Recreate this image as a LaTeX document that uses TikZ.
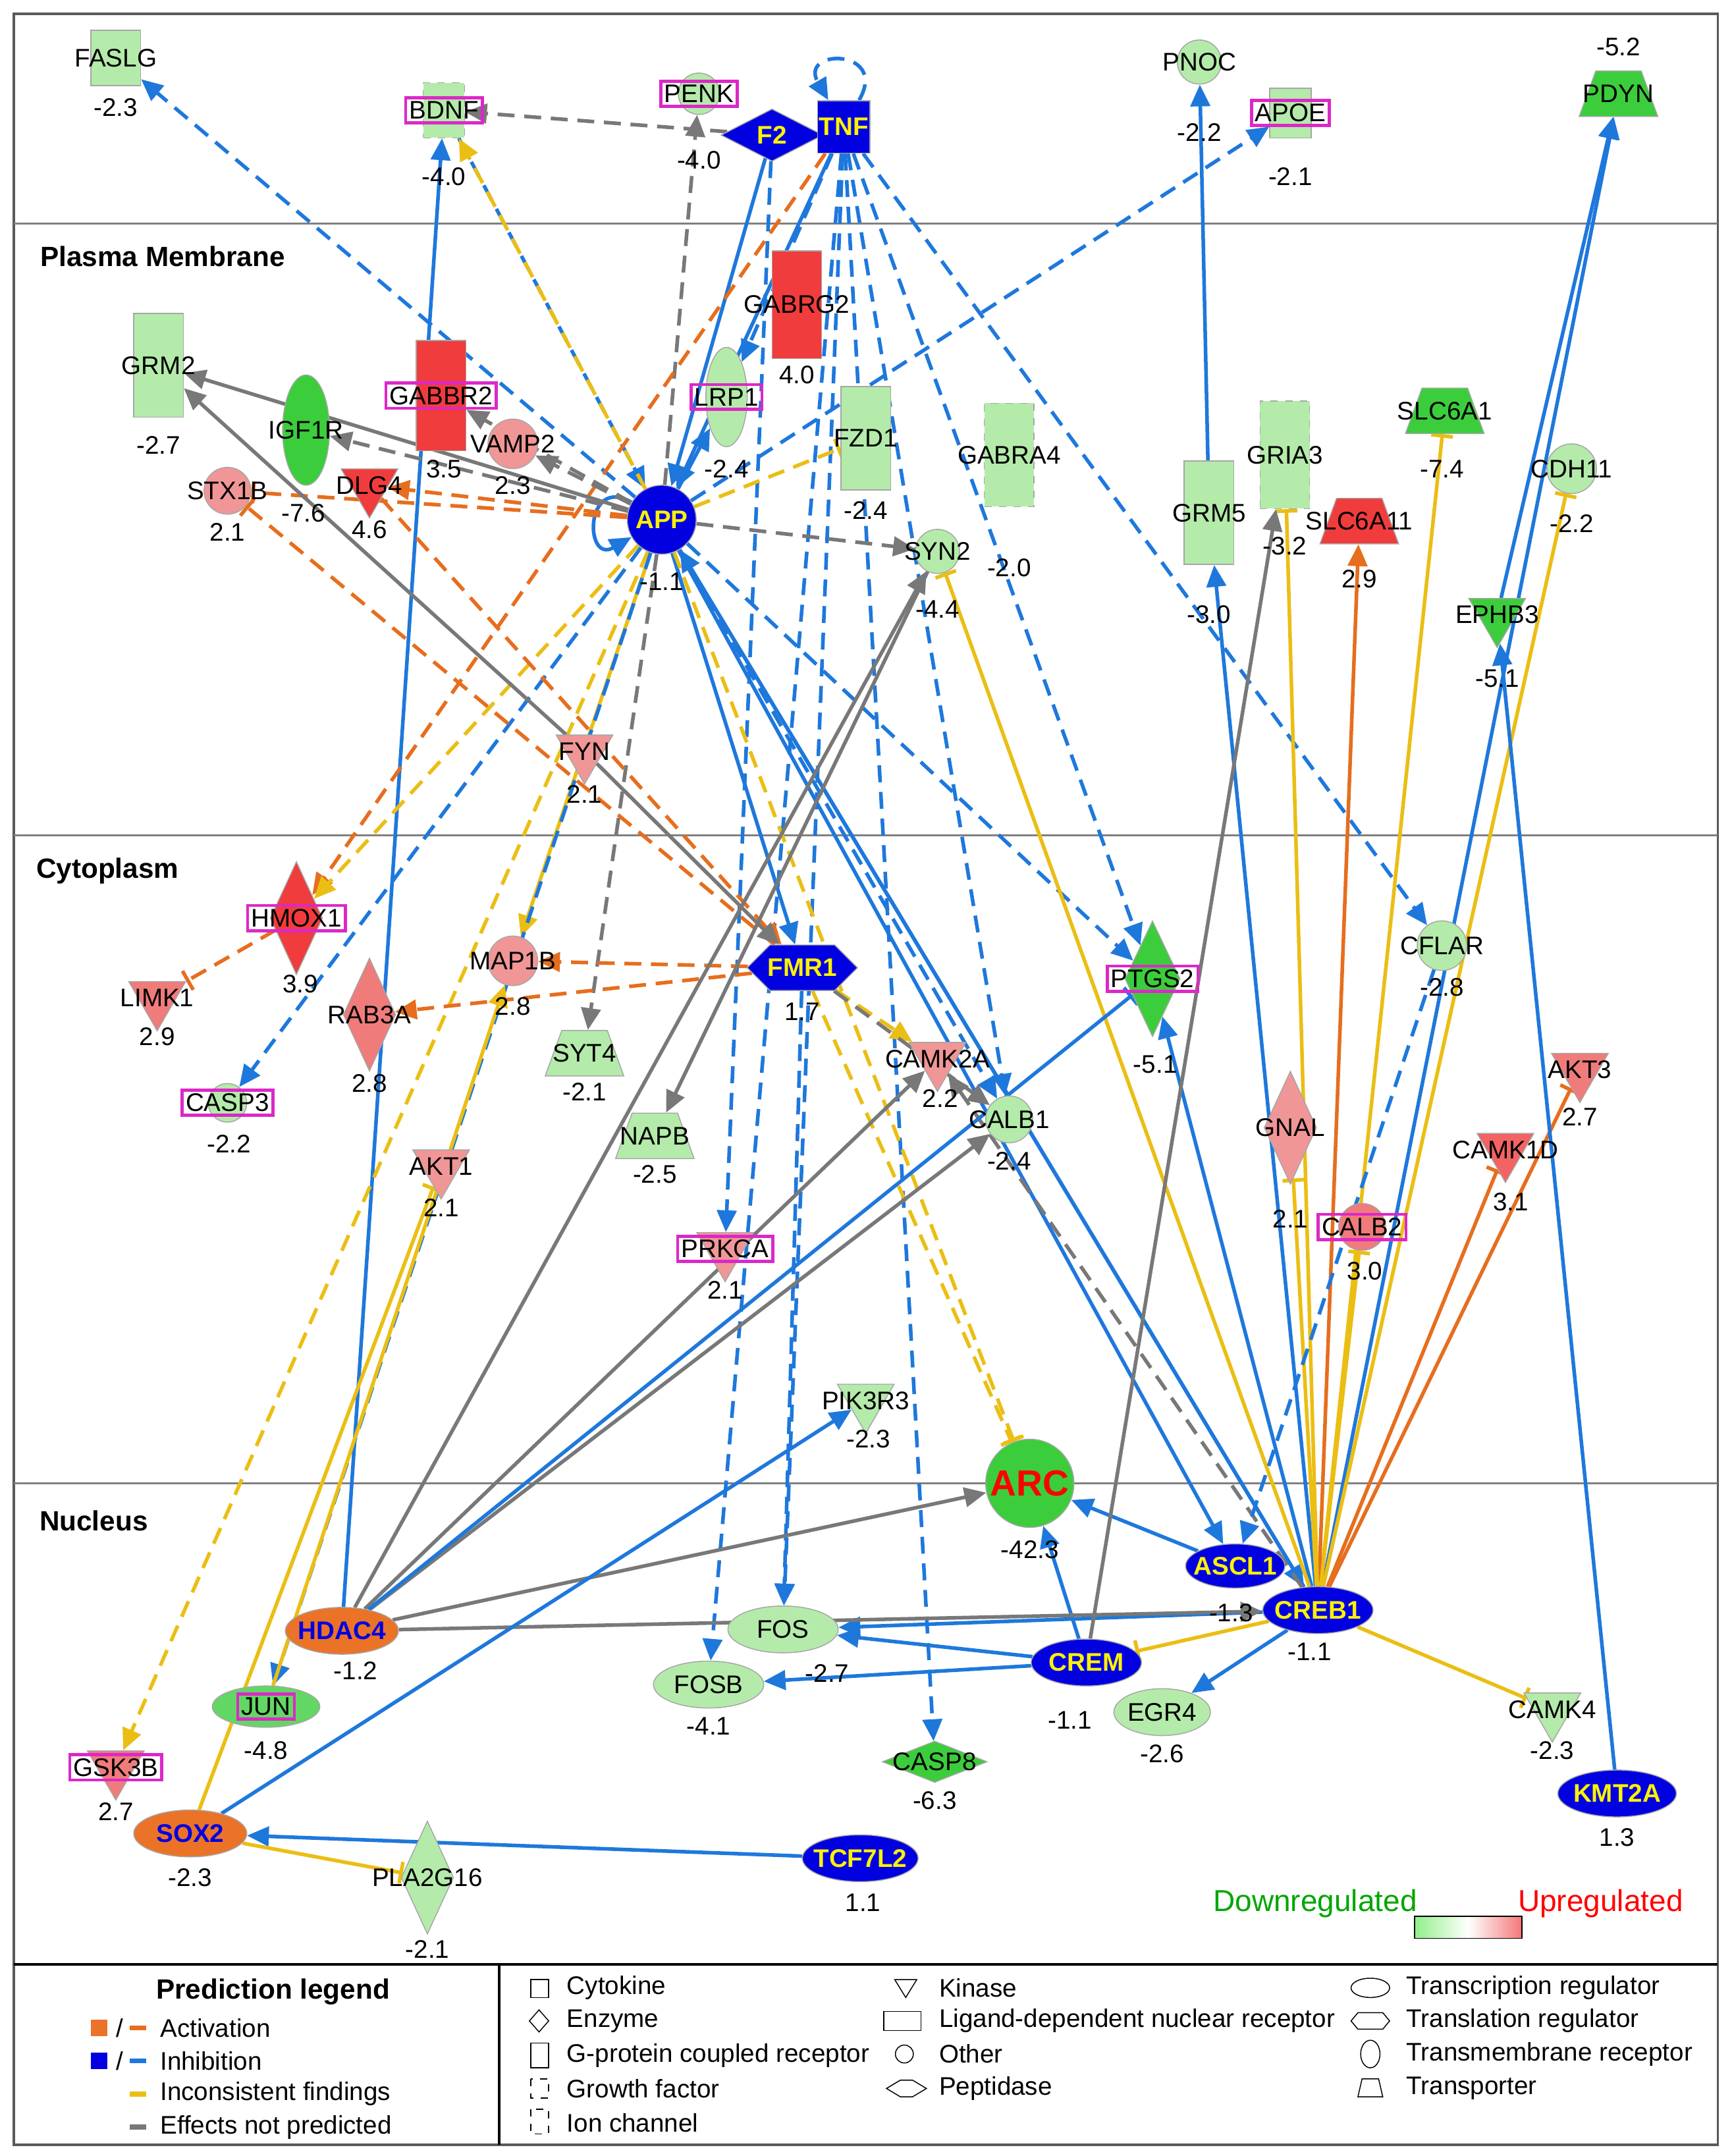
\documentclass[tikz,border=0pt]{standalone}
\usepackage{fontspec}
\setmainfont{Liberation Sans}
\usetikzlibrary{shapes.geometric,shapes.symbols,arrows.meta}
\pgfdeclarelayer{bg}
\pgfsetlayers{bg,main}
\definecolor{lg}{RGB}{180,235,170}
\definecolor{gg}{RGB}{60,205,60}
\definecolor{pk}{RGB}{240,150,150}
\definecolor{rd}{RGB}{240,60,60}
\definecolor{bb}{RGB}{0,0,225}
\definecolor{org}{RGB}{235,115,40}
\definecolor{eb}{RGB}{30,120,220}
\definecolor{ey}{RGB}{235,190,20}
\definecolor{eo}{RGB}{230,110,30}
\definecolor{eg}{RGB}{120,120,120}
\definecolor{mg}{RGB}{220,40,200}
\newcommand\gene[7]{\node[#2] (#1) at (#4) {};\node[#3] (#1t) at (#4) {#5};\node[val] (#1v) at (#6) {#7};}
\begin{document}
\begin{tikzpicture}[x=0.02cm,y=-0.02cm,
 font=\fontsize{10.5}{12}\selectfont,
 txt/.style={inner sep=1pt},
 mtxt/.style={inner sep=1.5pt,draw=mg,line width=1.3pt},
 btxt/.style={inner sep=1pt,text=yellow,font=\fontsize{10.5}{12}\selectfont\bfseries},
 otxt/.style={inner sep=1pt,text=bb,font=\fontsize{10.5}{12}\selectfont\bfseries},
 val/.style={inner sep=1pt},
 sh/.style={draw=gray!70,inner sep=0pt},
 rct/.style 2 args={sh,rectangle,minimum width=#1*0.02cm,minimum height=#2*0.02cm},
 circ/.style={sh,circle,minimum size=#1*0.02cm},
 ell/.style 2 args={sh,ellipse,minimum width=#1*0.02cm,minimum height=#2*0.02cm},
 dia/.style 2 args={sh,diamond,minimum width=#1*0.02cm,minimum height=#2*0.02cm},
 tri/.style={sh,regular polygon,regular polygon sides=3,shape border rotate=180,minimum size=0.95cm},
 trap/.style={draw=gray!70,inner sep=3pt,trapezium,trapezium left angle=70,trapezium right angle=70,minimum width=0.7cm,minimum height=0.66cm},
 E/.style={line width=1.5pt,-{Triangle[length=9pt,width=8pt]}},
 T/.style={line width=1.5pt,-{Bar[width=9pt]}},
 bl/.style={eb},ye/.style={ey},og/.style={eo},gr/.style={eg},
 d/.style={dash pattern=on 7pt off 4pt},
]
\useasboundingbox (0,0) rectangle (1256,1564);
\begin{pgfonlayer}{bg}
\draw[gray!70!black,line width=1pt] (10,10) rectangle (1246,1556);
\foreach \y in {162,606,1076}{\draw[gray,line width=0.8pt] (10,\y) -- (1246,\y);}
\end{pgfonlayer}
\draw[black,line width=1pt] (10,1425) -- (1246,1425);
\draw[black,line width=1pt] (362,1425) -- (362,1556);
\node[font=\fontsize{11.5}{13}\selectfont\bfseries] (pm) at (118,186) {Plasma Membrane};
\node[font=\fontsize{11.5}{13}\selectfont\bfseries] (cy) at (78,632) {Cytoplasm};
\node[font=\fontsize{11.5}{13}\selectfont\bfseries] (nu) at (68,1103) {Nucleus};

\gene{FASLG}{rct={36}{40},fill=lg}{txt}{84,42}{FASLG}{84,78}{-2.3}
\gene{BDNF}{rct={30}{40},fill=lg,dashed}{mtxt}{322,80}{BDNF}{322,128}{-4.0}
\gene{PENK}{circ=30,fill=lg}{mtxt}{507,68}{PENK}{507,116}{-4.0}
\gene{F2}{dia={74}{38},fill=bb}{btxt}{560,98}{F2}{0,0}{}
\gene{TNF}{rct={38}{38},fill=bb}{btxt}{612,92}{TNF}{0,0}{}
\gene{PNOC}{circ=32,fill=lg}{txt}{870,45}{PNOC}{870,96}{-2.2}
\gene{APOE}{rct={30}{36},fill=lg}{mtxt}{936,82}{APOE}{936,128}{-2.1}
\gene{PDYN}{trap,fill=gg}{txt}{1174,68}{PDYN}{1174,34}{-5.2}
\gene{GRM2}{rct={36}{75},fill=lg}{txt}{115,265}{GRM2}{115,323}{-2.7}
\gene{GABBR2}{rct={36}{80},fill=rd}{mtxt}{320,287}{GABBR2}{322,340}{3.5}
\gene{GABRG2}{rct={36}{78},fill=rd}{txt}{578,221}{GABRG2}{578,272}{4.0}
\gene{LRP1}{ell={30}{72},fill=lg}{mtxt}{527,288}{LRP1}{527,340}{-2.4}
\gene{IGF1R}{ell={34}{80},fill=gg}{txt}{222,312}{IGF1R}{220,372}{-7.6}
\gene{VAMP2}{circ=36,fill=pk}{txt}{372,322}{VAMP2}{372,352}{2.3}
\gene{STX1B}{circ=34,fill=pk}{txt}{165,356}{STX1B}{165,386}{2.1}
\gene{DLG4}{tri,fill=rd}{txt}{268,352}{DLG4}{268,384}{4.6}
\gene{APP}{circ=50,fill=bb}{btxt}{480,377}{APP}{480,422}{-1.1}
\gene{FZD1}{rct={36}{75},fill=lg}{txt}{628,318}{FZD1}{628,370}{-2.4}
\gene{GABRA4}{rct={36}{75},fill=lg,dashed}{txt}{732,330}{GABRA4}{732,412}{-2.0}
\gene{SYN2}{circ=32,fill=lg}{txt}{680,400}{SYN2}{680,442}{-4.4}
\gene{GRM5}{rct={36}{75},fill=lg}{txt}{877,372}{GRM5}{877,446}{-3.0}
\gene{GRIA3}{rct={36}{78},fill=lg,dashed}{txt}{932,330}{GRIA3}{932,396}{-3.2}
\gene{SLC6A1}{trap,fill=gg}{txt}{1048,298}{SLC6A1}{1046,340}{-7.4}
\gene{SLC6A11}{trap,fill=rd}{txt}{986,378}{SLC6A11}{986,420}{2.9}
\gene{CDH11}{circ=36,fill=lg}{txt}{1140,340}{CDH11}{1140,380}{-2.2}
\gene{EPHB3}{tri,fill=gg}{txt}{1086,446}{EPHB3}{1086,492}{-5.1}
\gene{FYN}{tri,fill=pk}{txt}{424,545}{FYN}{424,576}{2.1}
\gene{HMOX1}{dia={38}{82},fill=rd}{mtxt}{215,666}{HMOX1}{218,714}{3.9}
\gene{LIMK1}{tri,fill=pk!70!rd}{txt}{114,724}{LIMK1}{114,752}{2.9}
\gene{RAB3A}{dia={38}{82},fill=pk!70!rd}{txt}{268,736}{RAB3A}{268,786}{2.8}
\gene{MAP1B}{circ=36,fill=pk}{txt}{372,697}{MAP1B}{372,730}{2.8}
\gene{FMR1}{signal,signal to=east and west,draw=gray!70,inner sep=0pt,minimum width=1.6cm,minimum height=0.66cm,fill=bb}{btxt}{582,702}{FMR1}{582,734}{1.7}
\gene{SYT4}{trap,fill=lg}{txt}{424,764}{SYT4}{424,792}{-2.1}
\gene{CAMK2A}{tri,fill=pk}{txt}{680,768}{CAMK2A}{682,797}{2.2}
\gene{PTGS2}{dia={40}{84},fill=gg}{mtxt}{836,710}{PTGS2}{838,772}{-5.1}
\gene{CFLAR}{circ=36,fill=lg}{txt}{1046,686}{CFLAR}{1046,716}{-2.8}
\gene{AKT3}{tri,fill=pk!70!rd}{txt}{1146,776}{AKT3}{1146,810}{2.7}
\gene{CASP3}{circ=28,fill=lg}{mtxt}{165,800}{CASP3}{166,830}{-2.2}
\gene{AKT1}{tri,fill=pk}{txt}{320,846}{AKT1}{320,876}{2.1}
\gene{NAPB}{trap,fill=lg}{txt}{475,824}{NAPB}{475,852}{-2.5}
\gene{CALB1}{circ=34,fill=lg}{txt}{732,812}{CALB1}{732,842}{-2.4}
\gene{GNAL}{dia={38}{82},fill=pk}{txt}{936,818}{GNAL}{936,884}{2.1}
\gene{CAMK1D}{tri,fill=rd!80}{txt}{1092,834}{CAMK1D}{1096,872}{3.1}
\gene{CALB2}{circ=34,fill=pk!70!rd}{mtxt}{988,890}{CALB2}{990,922}{3.0}
\gene{PRKCA}{tri,fill=pk}{mtxt}{526,906}{PRKCA}{526,936}{2.1}
\gene{PIK3R3}{tri,fill=lg}{txt}{628,1016}{PIK3R3}{630,1044}{-2.3}
\gene{ARC}{circ=64,fill=gg}{txt,text=red,font=\fontsize{15}{17}\selectfont\bfseries}{747,1076}{ARC}{747,1124}{-42.3}
\gene{ASCL1}{ell={72}{32},fill=bb}{btxt}{896,1136}{ASCL1}{893,1170}{-1.3}
\gene{CREB1}{ell={80}{34},fill=bb}{btxt}{956,1168}{CREB1}{950,1198}{-1.1}
\gene{HDAC4}{ell={82}{34},fill=org}{otxt}{248,1183}{HDAC4}{258,1212}{-1.2}
\gene{FOS}{ell={80}{34},fill=lg}{txt}{568,1182}{FOS}{600,1214}{-2.7}
\gene{FOSB}{ell={80}{34},fill=lg}{txt}{514,1222}{FOSB}{514,1252}{-4.1}
\gene{CREM}{ell={80}{34},fill=bb}{btxt}{788,1206}{CREM}{776,1248}{-1.1}
\gene{EGR4}{ell={70}{34},fill=lg}{txt}{843,1242}{EGR4}{843,1272}{-2.6}
\gene{JUN}{ell={78}{30},fill=gg!80}{mtxt}{193,1238}{JUN}{193,1270}{-4.8}
\gene{CAMK4}{tri,fill=lg}{txt}{1126,1240}{CAMK4}{1126,1270}{-2.3}
\gene{CASP8}{dia={76}{30},fill=gg}{txt}{678,1278}{CASP8}{678,1306}{-6.3}
\gene{GSK3B}{tri,fill=pk!70!rd}{mtxt}{84,1282}{GSK3B}{84,1314}{2.7}
\gene{KMT2A}{ell={86}{34},fill=bb}{btxt}{1173,1301}{KMT2A}{1173,1333}{1.3}
\gene{SOX2}{ell={82}{34},fill=org}{otxt}{138,1330}{SOX2}{138,1362}{-2.3}
\gene{TCF7L2}{ell={84}{34},fill=bb}{btxt}{624,1348}{TCF7L2}{626,1380}{1.1}
\gene{PLA2G16}{dia={38}{82},fill=lg}{txt}{310,1362}{PLA2G16}{310,1414}{-2.1}

\begin{pgfonlayer}{bg}
\draw[E,bl,d] (APP) -- (FASLG);
\draw[E,gr,d] (F2) -- (BDNF);
\draw[E,bl,d] (BDNF) -- (APP);
\draw[E,ye,d] (APP) -- (BDNF);
\draw[E,bl] (HDAC4) -- (BDNF);
\draw[E,bl] (TNF) -- (APP);
\draw[E,bl] (F2) -- (APP);
\draw[E,bl,d] (APP) -- (APOE);
\draw[E,gr,d] (APP) -- (PENK);
\draw[E,bl,d] (TNF) to[out=60,in=120,looseness=5] (TNF);
\draw[E,bl] (APP) to[out=150,in=210,looseness=4] (APP);
\draw[E,bl,d] (TNF) -- (LRP1);
\draw[E,bl,d] (TNF) -- (FOS);
\draw[E,bl,d] (TNF) -- (FOSB);
\draw[E,bl,d] (TNF) -- (CASP8);
\draw[E,bl,d] (TNF) -- (PTGS2);
\draw[E,bl,d] (TNF) -- (CFLAR);
\draw[E,bl,d] (TNF) -- (CALB1);
\draw[E,bl,d] (F2) -- (PRKCA);
\draw[E,og,d] (TNF) -- (HMOX1);
\draw[T,og,d] (HMOX1) -- (LIMK1);
\draw[E,ye,d] (APP) -- (GSK3B);
\draw[E,ye,d] (APP) -- (HMOX1);
\draw[E,bl,d] (APP) -- (CASP3);
\draw[E,ye] (APP) -- (MAP1B);
\draw[E,gr,d] (APP) -- (SYT4);
\draw[E,bl] (APP) -- (FMR1);
\draw[E,gr,d] (APP) -- (SYN2);
\draw[E,gr,d] (APP) -- (VAMP2);
\draw[E,gr,d] (APP) -- (GABBR2);
\draw[E,gr,d] (APP) -- (IGF1R);
\draw[E,gr] (APP) -- (GRM2);
\draw[E,og,d] (APP) -- (DLG4);
\draw[T,og,d] (APP) -- (STX1B);
\draw[E,bl] (APP) -- (LRP1);
\draw[T,ye,d] (APP) -- (FZD1);
\draw[E,bl,d] (APP) -- (PTGS2);
\draw[T,ye,d] (APP) -- (ARC);
\draw[E,bl] (APP) -- (ASCL1);
\draw[E,bl] (APP) -- (CREB1);
\draw[E,bl,d] (APP) -- (CALB1);
\draw[E,bl,d] (APP) -- (JUN);
\draw[E,og,d] (DLG4) -- (FMR1);
\draw[T,og,d] (FMR1) -- (STX1B);
\draw[E,og,d] (FMR1) -- (RAB3A);
\draw[E,og,d] (FMR1) -- (MAP1B);
\draw[E,gr] (FYN) -- (FMR1);
\draw[E,gr] (FYN) -- (GRM2);
\draw[E,ye,d] (FMR1) -- (CAMK2A);
\draw[T,ye,d] (FMR1) -- (ARC);
\draw[E,bl,d] (FMR1) -- (FOS);
\draw[E,gr,d] (FMR1) -- (CALB1);
\draw[E,bl] (CREB1) -- (PDYN);
\draw[E,bl] (EPHB3) -- (PDYN);
\draw[T,ye] (CREB1) -- (SLC6A1);
\draw[T,ye] (CREB1) -- (CDH11);
\draw[E,og] (CREB1) -- (SLC6A11);
\draw[T,ye] (CREB1) -- (GRIA3);
\draw[E,bl] (CREB1) -- (GRM5);
\draw[E,bl] (GRM5) -- (PNOC);
\draw[T,og] (CREB1) -- (AKT3);
\draw[T,og] (CREB1) -- (CAMK1D);
\draw[T,ye] (CREB1) -- (CALB2);
\draw[T,ye] (CREB1) -- (GNAL);
\draw[E,bl] (CREB1) -- (PTGS2);
\draw[T,ye] (CREB1) -- (SYN2);
\draw[E,bl] (CREB1) -- (APP);
\draw[T,ye] (CREB1) -- (CAMK4);
\draw[E,bl] (CREB1) -- (EGR4);
\draw[E,bl] (CREB1) -- (FOS);
\draw[T,ye] (CREB1) -- (CREM);
\draw[E,gr,d] (CREB1) -- (CAMK2A);
\draw[E,bl,d] (CFLAR) -- (ASCL1);
\draw[E,bl] (ASCL1) -- (ARC);
\draw[E,bl] (CREM) -- (ARC);
\draw[E,bl] (CREM) -- (FOS);
\draw[E,bl] (CREM) -- (FOSB);
\draw[E,gr] (CREM) -- (GRIA3);
\draw[E,bl] (KMT2A) -- (EPHB3);
\draw[E,gr] (HDAC4) -- (SYN2);
\draw[E,gr] (HDAC4) -- (CAMK2A);
\draw[E,gr] (HDAC4) -- (CALB1);
\draw[E,gr] (HDAC4) -- (ARC);
\draw[E,gr] (HDAC4) -- (CREB1);
\draw[T,bl] (HDAC4) -- (PTGS2);
\draw[E,gr] (SYN2) -- (NAPB);
\draw[E,bl] (SOX2) -- (PIK3R3);
\draw[E,bl] (TCF7L2) -- (SOX2);
\draw[T,ye] (SOX2) -- (PLA2G16);
\draw[T,ye] (SOX2) -- (AKT1);
\draw[E,ye] (JUN) -- (MAP1B);
\end{pgfonlayer}

\node[green!65!black,font=\fontsize{12.5}{14}\selectfont] (dn) at (954,1381) {Downregulated};
\node[red,font=\fontsize{12.5}{14}\selectfont] (up) at (1161,1381) {Upregulated};
\shade[left color=lg!80!green, right color=pk!80!red,middle color=white] (1026,1390) rectangle (1104,1406);
\draw (1026,1390) rectangle (1104,1406);

\node[font=\fontsize{11.5}{13}\selectfont\bfseries] (pl) at (198,1445) {Prediction legend};
\fill[org] (66,1465) rectangle (78,1477);
\node (s1) at (87,1471) {/};\draw[eo,line width=2pt] (94,1471) -- (106,1471);
\node[anchor=west] (l1) at (110,1471) {Activation};
\fill[bb] (66,1489) rectangle (78,1501);
\node (s2) at (87,1495) {/};\draw[eb,line width=2pt] (94,1495) -- (106,1495);
\node[anchor=west] (l2) at (110,1495) {Inhibition};
\draw[ey,line width=2pt] (94,1519) -- (106,1519);
\node[anchor=west] (l3) at (110,1519) {Inconsistent findings};
\draw[eg,line width=2pt] (94,1543) -- (106,1543);
\node[anchor=west] (l4) at (110,1543) {Effects not predicted};

\draw (385,1436) rectangle (398,1449);\node[anchor=west] (c1) at (405,1442) {Cytokine};
\draw (391,1458) -- (398,1466) -- (391,1474) -- (384,1466) -- cycle;\node[anchor=west] (c2) at (405,1466) {Enzyme};
\draw (385,1482) rectangle (398,1500);\node[anchor=west] (c3) at (405,1491) {G-protein coupled receptor};
\draw[dashed] (385,1508) rectangle (398,1522);\node[anchor=west] (c4) at (405,1515) {Growth factor};
\draw[dashed] (385,1530) rectangle (398,1548);\node[anchor=west] (c5) at (405,1540) {Ion channel};
\draw (649,1436) -- (665,1436) -- (657,1449) -- cycle;\node[anchor=west] (k1) at (675,1442) {Kinase};
\draw (641,1459) rectangle (668,1473);\node[anchor=west] (k2) at (675,1466) {Ligand-dependent nuclear receptor};
\draw (656,1490) circle (6.5);\node[anchor=west] (k3) at (675,1490) {Other};
\draw (643,1515) -- (653,1509) -- (662,1509) -- (672,1515) -- (662,1521) -- (653,1521) -- cycle;\node[anchor=west] (k4) at (675,1515) {Peptidase};
\draw (994,1442) ellipse (14 and 7);\node[anchor=west] (r1) at (1014,1442) {Transcription regulator};
\draw (985,1460) -- (1003,1460) -- (1008,1466) -- (1003,1472) -- (985,1472) -- (980,1466) -- cycle;\node[anchor=west] (r2) at (1014,1466) {Translation regulator};
\draw (994,1490) ellipse (7 and 10);\node[anchor=west] (r3) at (1014,1490) {Transmembrane receptor};
\draw (988,1508) -- (1000,1508) -- (1003,1521) -- (985,1521) -- cycle;\node[anchor=west] (r4) at (1014,1515) {Transporter};
\end{tikzpicture}
\end{document}
